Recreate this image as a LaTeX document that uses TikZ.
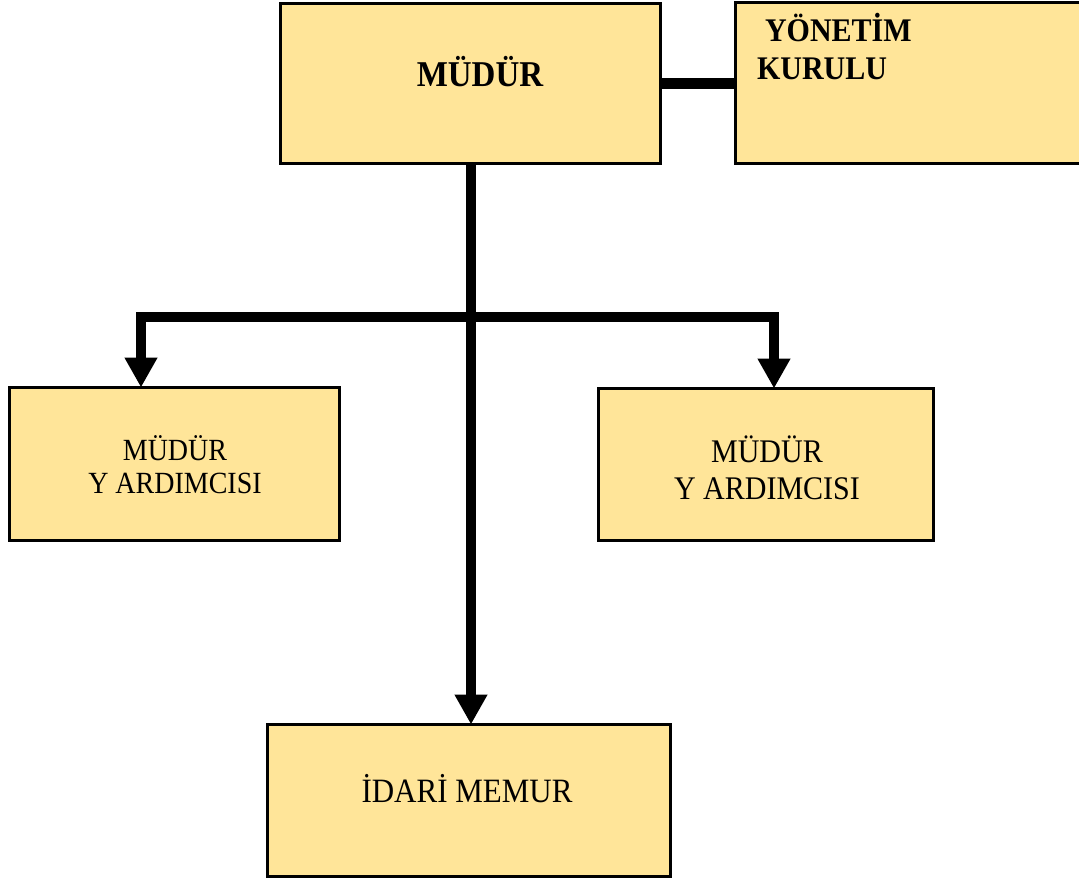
\documentclass[tikz,border=0pt]{standalone}
\usepackage{fontspec}
\usepackage{graphicx}
\setmainfont{Liberation Serif}
\usetikzlibrary{arrows.meta}
\definecolor{boxfill}{RGB}{255,229,153}
\newcommand{\tallt}[2]{\scalebox{1}[1.1]{\fontsize{#1}{#1}\selectfont #2}}
\tikzset{
  box/.style={draw=black, line width=3pt, fill=boxfill, rectangle, inner sep=0pt, outer sep=0pt},
  bus/.style={draw=black, line width=10pt, line join=miter},
  tip/.style={-{Triangle[width=31pt,length=30pt]}},
  txt/.style={inner sep=0pt, outer sep=0pt, text=black},
}
\begin{document}
\begin{tikzpicture}[x=1pt,y=-1pt]
\useasboundingbox[fill=white] (0,0) rectangle (1079,883);
% boxes
\node[box, minimum width=380pt, minimum height=160pt] (m) at (470.5,83.5) {};
\node[box, minimum width=354.5pt, minimum height=161pt] (yk) at (912.75,83) {};
\node[box, minimum width=330pt, minimum height=153pt] (ly) at (174.5,464) {};
\node[box, minimum width=335pt, minimum height=152pt] (ry) at (766,464.5) {};
\node[box, minimum width=403pt, minimum height=152pt] (im) at (469,800.5) {};
% texts
\node[txt, anchor=base] (mt) at (480,86.5) {\tallt{33}{\bfseries MÜDÜR}};
\node[txt, anchor=base west] (ykt1) at (765,42) {\tallt{30}{\bfseries YÖNETİM}};
\node[txt, anchor=base west] (ykt2) at (757,79) {\tallt{30}{\bfseries KURULU}};
\node[txt, anchor=base] (lyt1) at (175,460.5) {\tallt{28}{MÜDÜR}};
\node[txt, anchor=base] (lyt2) at (175,493) {\tallt{28}{Y ARDIMCISI}};
\node[txt, anchor=base] (ryt1) at (767,462) {\tallt{30}{MÜDÜR}};
\node[txt, anchor=base] (ryt2) at (767,499) {\tallt{30}{Y ARDIMCISI}};
\node[txt, anchor=base] (imt) at (467,802) {\tallt{31}{İDARİ MEMUR}};
% connectors
\coordinate (kc) at (698,83.5);
\coordinate (lt) at (141,317);
\coordinate (rt) at (774,317);
\coordinate (mid) at (471,317);
\draw[bus] (kc -| m.east) -- (kc -| yk.west);
\draw[bus] (mid |- m.south) -- (mid);
\draw[bus, tip] (mid) -- (mid |- im.north);
\draw[bus, tip] (mid) -- (lt) -- (lt |- ly.north);
\draw[bus, tip] (mid) -- (rt) -- (rt |- ry.north);
\end{tikzpicture}
\end{document}
